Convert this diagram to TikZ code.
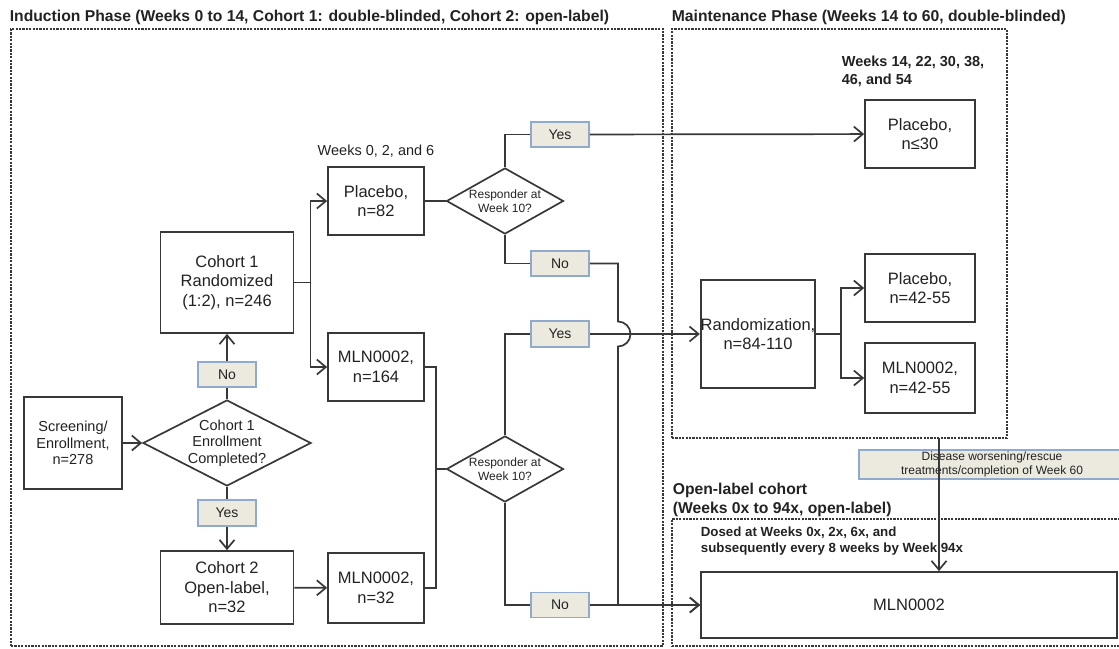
\documentclass[tikz,border=0pt]{standalone}
\usepackage{fontspec}
\setmainfont{Liberation Sans}
\usepackage{tikz}
\usetikzlibrary{positioning,shapes,shapes.geometric,arrows.meta}
\definecolor{linea}{HTML}{383838}
\definecolor{caja}{HTML}{ECEADF}
\definecolor{borde}{HTML}{8FAACD}
\definecolor{texto}{HTML}{222222}
\newcommand{\tam}[2]{\fontsize{#1}{#2}\selectfont}

\begin{document}
\begin{tikzpicture}[x=1pt, y=-1pt, -{Straight Barb[length=9pt,width=15pt]}, line width=1.7pt, color=linea, text=texto,
        main/.style = {draw, rectangle, align=center, inner sep=0pt, font=\tam{16.5}{19.5}},
        rombo/.style = {draw, diamond, inner sep=0pt},
        dentro/.style = {align=center, inner sep=0pt, text=texto},
        etiqueta/.style = {draw=borde, fill=caja, rectangle, align=center, inner sep=0pt, minimum width=58pt, minimum height=25pt, font=\tam{14}{16}},
        fase/.style = {draw, dash pattern=on 2.2pt off 1.2pt, line width=1.3pt, rectangle, inner sep=0pt},
        titulo/.style = {anchor=west, align=left, inner sep=0pt, font=\bfseries\tam{15.7}{18.5}}]
        \useasboundingbox (0,0) rectangle (1119,648);

        % phases
        \node[fase, minimum width=652pt, minimum height=617pt] (27) at (337,337.5) {};
        \node[fase, minimum width=335pt, minimum height=409pt] (28) at (839.5,233.5) {};
        \node[fase, minimum width=458pt, minimum height=127pt] (29) at (901,582.5) {};
        \node[titulo] (22) at (9,17) {Induction Phase (Weeks 0 to 14, Cohort 1: double-blinded, Cohort 2: open-label)};
        \node[titulo] (23) at (671,17) {Maintenance Phase (Weeks 14 to 60, double-blinded)};
        \node[titulo] (24) at (672,500) {Open-label cohort\\(Weeks 0x to 94x, open-label)};
        \node[titulo, font=\bfseries\tam{14.5}{18}] (25) at (841,71) {Weeks 14, 22, 30, 38,\\46, and 54};
        \node[titulo, font=\bfseries\tam{13.3}{15.5}] (26) at (700,541) {Dosed at Weeks 0x, 2x, 6x, and\\subsequently every 8 weeks by Week 94x};

        % induction
        \node[main, minimum width=98pt, minimum height=92pt, font=\tam{14.5}{16.5}] (1) at (73,443) {Screening/\\Enrollment,\\n=278};
        \node[rombo, minimum width=168pt, minimum height=86pt, label={[dentro,font=\tam{14.5}{16.5}]center:{Cohort 1\\Enrollment\\Completed?}}] (2) at (227,443) {};
        \node[etiqueta] (3) [above of=2, node distance=68.5pt] {No};
        \node[etiqueta, minimum height=26pt] (4) [below of=2, node distance=70pt] {Yes};
        \node[main, minimum width=133pt, minimum height=101pt] (5) [above of=2, node distance=160.5pt] {Cohort 1\\Randomized\\(1:2), n=246};
        \node[main, minimum width=133pt, minimum height=73pt] (6) [below of=2, node distance=144.5pt] {Cohort 2\\Open-label,\\n=32};

        \node[main, minimum width=96pt, minimum height=68pt] (7) at (376,201) {Placebo,\\n=82};
        \node[main, minimum width=96pt, minimum height=68pt] (8) [below of=7, node distance=166pt] {MLN0002,\\n=164};
        \node[main, minimum width=96pt, minimum height=70pt] (9) [below of=7, node distance=387pt] {MLN0002,\\n=32};
        \node[inner sep=0pt, font=\tam{14.5}{17}] (32) [above=8pt of 7] {Weeks 0, 2, and 6};

        \node[rombo, minimum width=117pt, minimum height=66pt, label={[dentro,font=\tam{12}{14.5}]center:{Responder at\\Week 10?}}] (10) [right of=7, node distance=129pt] {};
        \node[etiqueta] (11) at (560,134.5) {Yes};
        \node[etiqueta] (12) at (560,263.5) {No};
        \node[rombo, minimum width=117pt, minimum height=66pt, label={[dentro,font=\tam{12}{14.5}]center:{Responder at\\Week 10?}}] (13) [below of=10, node distance=268pt] {};
        \node[etiqueta, minimum height=26pt] (14) at (560,334) {Yes};
        \node[etiqueta] (15) at (560,605) {No};

        % maintenance
        \node[main, minimum width=110pt, minimum height=68pt] (16) at (920,134) {Placebo,\\n≤30};
        \node[main, minimum width=114pt, minimum height=108pt] (17) at (758,334) {Randomization,\\n=84-110};
        \node[main, minimum width=110pt, minimum height=68pt] (18) at (920,288) {Placebo,\\n=42-55};
        \node[main, minimum width=110pt, minimum height=70pt] (19) [below of=18, node distance=90pt] {MLN0002,\\n=42-55};

        % open-label
        \node[etiqueta, minimum width=266pt, minimum height=29pt, font=\tam{12}{14}] (21) at (992,464.5) {Disease worsening/rescue\\treatments/completion of Week 60};
        \node[main, minimum width=416pt, minimum height=66pt] (20) at (909,605) {MLN0002};

        \coordinate (30) at (618,334);
        \coordinate (31) at (939,438);

        \draw (1) -- (2);
        \draw[-] (2) -- (3);
        \draw (3) -- (5);
        \draw[-] (2) -- (4);
        \draw (4) -- (6);

        \draw (5.east) -- +(16,0) |- (7.west);
        \draw (5.east) -- +(16,0) |- (8.west);
        \draw (6) -- (9);

        \draw[-] (7) -- (10);
        \draw[-] (10.north) |- (11.west);
        \draw[-] (10.south) |- (12.west);
        \draw (11) -- (16);
        \draw (12.east) -| ([yshift=12.5pt]30) arc[start angle=90, end angle=-90, radius=12.5pt] |- (20.west);

        \draw[-] (8.east) -- +(11,0) |- (13.west);
        \draw[-] (9.east) -- +(11,0) |- (13.west);
        \draw[-] (13.north) |- (14.west);
        \draw[-] (13.south) |- (15.west);
        \draw (14) -- (17);
        \draw (15) -- (20);

        \draw (17.east) -- +(25,0) |- (18.west);
        \draw (17.east) -- +(25,0) |- (19.west);
        \draw (31) -- (31 |- 20.north);
    \end{tikzpicture}
\end{document}
